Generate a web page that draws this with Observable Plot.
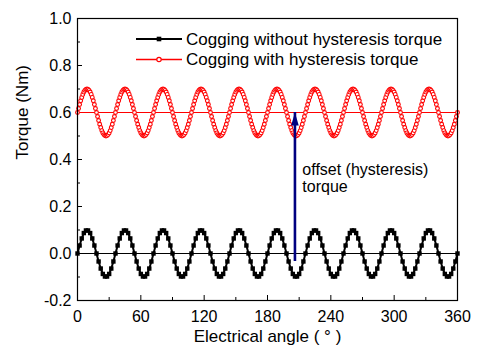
<!DOCTYPE html>
<html>
<head>
<meta charset="utf-8">
<script src="https://cdn.jsdelivr.net/npm/d3@7"></script>
<script src="https://cdn.jsdelivr.net/npm/@observablehq/plot@0.6"></script>
<style>
  body { margin: 0; background: white; }
  #chart { position: relative; width: 481px; height: 357px; }
</style>
</head>
<body>
<div id="chart"></div>
<script>
// ---- data ----
const seriesNames = ["Cogging without hysteresis torque", "Cogging with hysteresis torque"];
const angleBlack = d3.range(0, 361, 2);
const torqueBlack = [
  0,.034,.064,.087,.098,.098,.087,.064,.034,0,-.034,-.064,-.087,-.098,-.098,-.087,-.064,-.034,
  0,.034,.064,.087,.098,.098,.087,.064,.034,0,-.034,-.064,-.087,-.098,-.098,-.087,-.064,-.034,
  0,.034,.064,.087,.098,.098,.087,.064,.034,0,-.034,-.064,-.087,-.098,-.098,-.087,-.064,-.034,
  0,.034,.064,.087,.098,.098,.087,.064,.034,0,-.034,-.064,-.087,-.098,-.098,-.087,-.064,-.034,
  0,.034,.064,.087,.098,.098,.087,.064,.034,0,-.034,-.064,-.087,-.098,-.098,-.087,-.064,-.034,
  0,.034,.064,.087,.098,.098,.087,.064,.034,0,-.034,-.064,-.087,-.098,-.098,-.087,-.064,-.034,
  0,.034,.064,.087,.098,.098,.087,.064,.034,0,-.034,-.064,-.087,-.098,-.098,-.087,-.064,-.034,
  0,.034,.064,.087,.098,.098,.087,.064,.034,0,-.034,-.064,-.087,-.098,-.098,-.087,-.064,-.034,
  0,.034,.064,.087,.098,.098,.087,.064,.034,0,-.034,-.064,-.087,-.098,-.098,-.087,-.064,-.034,
  0,.034,.064,.087,.098,.098,.087,.064,.034,0,-.034,-.064,-.087,-.098,-.098,-.087,-.064,-.034,
  0
];
const angleRed = d3.range(0, 361, 1);
const torqueRed = [
  .600,.617,.634,.650,.664,.677,.687,.694,.698,.700,.698,.694,.687,.677,.664,.650,.634,.617,.600,.583,.566,.550,.536,.523,.513,.506,.502,.500,.502,.506,.513,.523,.536,.550,.566,.583,
  .600,.617,.634,.650,.664,.677,.687,.694,.698,.700,.698,.694,.687,.677,.664,.650,.634,.617,.600,.583,.566,.550,.536,.523,.513,.506,.502,.500,.502,.506,.513,.523,.536,.550,.566,.583,
  .600,.617,.634,.650,.664,.677,.687,.694,.698,.700,.698,.694,.687,.677,.664,.650,.634,.617,.600,.583,.566,.550,.536,.523,.513,.506,.502,.500,.502,.506,.513,.523,.536,.550,.566,.583,
  .600,.617,.634,.650,.664,.677,.687,.694,.698,.700,.698,.694,.687,.677,.664,.650,.634,.617,.600,.583,.566,.550,.536,.523,.513,.506,.502,.500,.502,.506,.513,.523,.536,.550,.566,.583,
  .600,.617,.634,.650,.664,.677,.687,.694,.698,.700,.698,.694,.687,.677,.664,.650,.634,.617,.600,.583,.566,.550,.536,.523,.513,.506,.502,.500,.502,.506,.513,.523,.536,.550,.566,.583,
  .600,.617,.634,.650,.664,.677,.687,.694,.698,.700,.698,.694,.687,.677,.664,.650,.634,.617,.600,.583,.566,.550,.536,.523,.513,.506,.502,.500,.502,.506,.513,.523,.536,.550,.566,.583,
  .600,.617,.634,.650,.664,.677,.687,.694,.698,.700,.698,.694,.687,.677,.664,.650,.634,.617,.600,.583,.566,.550,.536,.523,.513,.506,.502,.500,.502,.506,.513,.523,.536,.550,.566,.583,
  .600,.617,.634,.650,.664,.677,.687,.694,.698,.700,.698,.694,.687,.677,.664,.650,.634,.617,.600,.583,.566,.550,.536,.523,.513,.506,.502,.500,.502,.506,.513,.523,.536,.550,.566,.583,
  .600,.617,.634,.650,.664,.677,.687,.694,.698,.700,.698,.694,.687,.677,.664,.650,.634,.617,.600,.583,.566,.550,.536,.523,.513,.506,.502,.500,.502,.506,.513,.523,.536,.550,.566,.583,
  .600,.617,.634,.650,.664,.677,.687,.694,.698,.700,.698,.694,.687,.677,.664,.650,.634,.617,.600,.583,.566,.550,.536,.523,.513,.506,.502,.500,.502,.506,.513,.523,.536,.550,.566,.583,
  .600
];
const baselineBlack = [0];
const baselineRed = [0.6];
const offsetArrow = [{angle: 206, from: 0, to: 0.6}];
const offsetLabel = ["offset (hysteresis)\ntorque"];
const offsetLabelPos = [{angle: 213, torque: 0.385}];
const xTicks = [0, 60, 120, 180, 240, 300, 360];
const xMinorTicks = [30, 90, 150, 210, 270, 330];
const yTicks = [-0.2, 0, 0.2, 0.4, 0.6, 0.8, 1.0];
const yMinorTicks = [-0.1, 0.1, 0.3, 0.5, 0.7, 0.9];
const xTitle = "Electrical angle ( ° )";
const yTitle = "Torque (Nm)";

// ---- build ----
const W = 481, H = 357, mL = 77, mR = 24, mT = 18, mB = 57;
const innerW = W - mL - mR, innerH = H - mT - mB;
const blackData = angleBlack.map((a, i) => ({angle: a, torque: torqueBlack[i]}));
const redData = angleRed.map((a, i) => ({angle: a, torque: torqueRed[i]}));
const navy = "#000080";
const narrowTriangle = {
  draw(context) {
    context.moveTo(0, 0);
    context.lineTo(3.8, 13);
    context.lineTo(-3.8, 13);
    context.closePath();
  }
};

const svg = Plot.plot({
  width: W, height: H,
  marginLeft: mL, marginRight: mR, marginTop: mT, marginBottom: mB,
  style: {fontFamily: "Arial, 'Liberation Sans', sans-serif", fontSize: "16px", background: "white", color: "black"},
  x: {domain: [0, 360]},
  y: {domain: [-0.2, 1.0]},
  marks: [
    // ticks (inward)
    Plot.ruleX(xTicks, {x: d => d, insetTop: innerH - 5, stroke: "black"}),
    Plot.ruleX(xMinorTicks, {x: d => d, insetTop: innerH - 3, stroke: "black"}),
    Plot.ruleY(yTicks, {y: d => d, insetRight: innerW - 5, stroke: "black"}),
    Plot.ruleY(yMinorTicks, {y: d => d, insetRight: innerW - 3, stroke: "black"}),
    Plot.axisX(xTicks, {tickSize: 0, tickPadding: 10, label: null, fontSize: 16}),
    Plot.axisY(yTicks, {tickSize: 0, tickPadding: 6, label: null, fontSize: 16, tickFormat: d => d.toFixed(1)}),
    // baselines
    Plot.ruleY(baselineBlack, {y: d => d, stroke: "black", strokeWidth: 1.2}),
    Plot.ruleY(baselineRed, {y: d => d, stroke: "red", strokeWidth: 1.2}),
    // series
    Plot.line(blackData, {x: "angle", y: "torque", stroke: "black", strokeWidth: 2}),
    Plot.dot(blackData, {x: "angle", y: "torque", symbol: "square", r: 2.5, fill: "black", stroke: "none"}),
    Plot.line(redData, {x: "angle", y: "torque", stroke: "red", strokeWidth: 1}),
    Plot.dot(redData, {x: "angle", y: "torque", symbol: "circle", r: 1.9, fill: "white", stroke: "red", strokeWidth: 1.1}),
    // offset arrow
    Plot.ruleX(offsetArrow, {x: "angle", y1: "from", y2: "to", stroke: navy, strokeWidth: 2.6, insetTop: 8}),
    Plot.dot(offsetArrow, {x: "angle", y: "to", symbol: narrowTriangle, fill: navy, stroke: "none"}),
    Plot.text(offsetLabel, {x: () => offsetLabelPos[0].angle, y: () => offsetLabelPos[0].torque, text: d => d,
      textAnchor: "start", lineAnchor: "top", fontSize: 16, lineHeight: 1.05, fill: "black"}),
    // titles
    Plot.text([xTitle], {frameAnchor: "bottom", dy: 41, text: d => d, fontSize: 17, fill: "black"}),
    Plot.text([yTitle], {frameAnchor: "left", dx: -55, rotate: -90, text: d => d, fontSize: 17, fill: "black"}),
    Plot.frame({stroke: "black", strokeWidth: 1.2})
  ]
});
document.getElementById("chart").appendChild(svg);

// legend (inside plot, top)
const lg = d3.select(svg).append("g")
  .attr("font-family", "Arial, 'Liberation Sans', sans-serif")
  .attr("font-size", 17)
  .attr("text-anchor", "start");
const rows = [
  {name: seriesNames[0], y: 39, color: "black", mark: "square"},
  {name: seriesNames[1], y: 59.5, color: "red", mark: "circle"}
];
rows.forEach(r => {
  lg.append("line").attr("x1", 136).attr("x2", 182).attr("y1", r.y).attr("y2", r.y)
    .attr("stroke", r.color).attr("stroke-width", r.mark === "square" ? 2 : 1.5);
  if (r.mark === "square") {
    lg.append("rect").attr("x", 159 - 2.3).attr("y", r.y - 2.3).attr("width", 4.6).attr("height", 4.6).attr("fill", "black");
  } else {
    lg.append("circle").attr("cx", 159).attr("cy", r.y).attr("r", 2.2).attr("fill", "white").attr("stroke", "red").attr("stroke-width", 1.2);
  }
  lg.append("text").attr("x", 186).attr("y", r.y).attr("dy", "0.35em").attr("text-anchor", "start").attr("fill", "black").text(r.name);
});
</script>
</body>
</html>
